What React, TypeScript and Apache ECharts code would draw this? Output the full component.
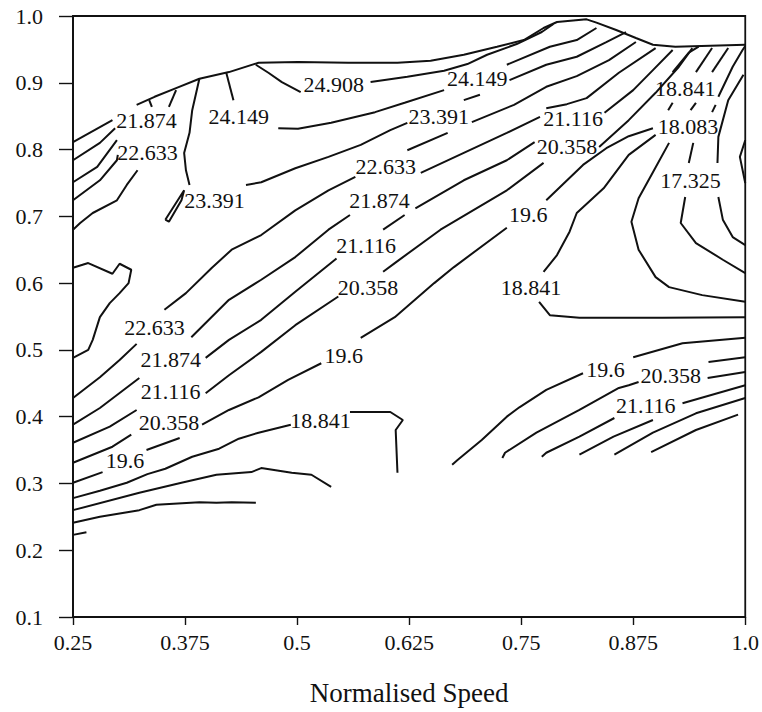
import React, { useEffect, useRef } from "react";
import * as echarts from "echarts";

// Axis ticks
const xTickValues = [0.25, 0.375, 0.5, 0.625, 0.75, 0.875, 1.0];
const yTickValues = [0.1, 0.2, 0.3, 0.4, 0.5, 0.6, 0.7, 0.8, 0.9, 1.0];
const xAxisTitle = "Normalised Speed";

// Contour strokes, [normalised speed, y]
const envelope = [[0.321,0.867],[0.341,0.879],[0.365,0.892],[0.391,0.906],[0.424,0.916],[0.457,0.930],[0.501,0.931],[0.557,0.930],[0.612,0.930],[0.649,0.933],[0.686,0.942],[0.723,0.954],[0.753,0.964],[0.775,0.982],[0.790,0.991],[0.823,0.995],[0.834,0.990],[0.856,0.979],[0.878,0.967],[0.897,0.957],[0.922,0.954],[1.0,0.957]];
const upperLeft1 = [[0.25,0.811],[0.294,0.844]];
const upperLeft2 = [[0.25,0.784],[0.280,0.810],[0.297,0.832]];
const upperLeft3 = [[0.25,0.751],[0.277,0.774],[0.299,0.814]];
const upperLeft4 = [[0.25,0.724],[0.280,0.754],[0.299,0.784],[0.300,0.792]];
const upperLeft5 = [[0.25,0.680],[0.258,0.690],[0.272,0.705],[0.299,0.724],[0.310,0.747],[0.322,0.769]];
const hook1 = [[0.335,0.874],[0.338,0.864]];
const hook2 = [[0.365,0.889],[0.357,0.864]];
const vertical23391 = [[0.391,0.906],[0.383,0.859],[0.380,0.825],[0.374,0.795],[0.376,0.769],[0.380,0.747]];
const stub24149 = [[0.421,0.915],[0.429,0.874]];
const loop23391 = [[0.353,0.695],[0.374,0.739],[0.371,0.724],[0.357,0.692],[0.353,0.695]];
const blob = [[0.25,0.623],[0.267,0.630],[0.294,0.614],[0.302,0.629],[0.315,0.620],[0.312,0.600],[0.302,0.585],[0.291,0.570],[0.280,0.549],[0.272,0.515],[0.267,0.500],[0.25,0.488]];
const c24908a = [[0.454,0.927],[0.468,0.915],[0.483,0.901],[0.504,0.886]];
const c24908b = [[0.582,0.901],[0.623,0.909],[0.664,0.918],[0.690,0.928],[0.712,0.942],[0.745,0.958],[0.773,0.976],[0.786,0.988]];
const topLine = [[0.734,0.927],[0.782,0.954],[0.812,0.964],[0.834,0.982]];
const c24149a = [[0.479,0.832],[0.501,0.831],[0.538,0.840],[0.587,0.856],[0.620,0.870],[0.664,0.889]];
const c24149b = [[0.737,0.904],[0.778,0.927],[0.812,0.939],[0.845,0.961],[0.867,0.976]];
const c23391a = [[0.443,0.747],[0.460,0.751],[0.498,0.772],[0.535,0.789],[0.571,0.807],[0.604,0.829],[0.623,0.840]];
const c23391b = [[0.695,0.841],[0.742,0.867],[0.778,0.894],[0.812,0.910],[0.848,0.934],[0.878,0.961]];
const stubA = [[0.686,0.874],[0.704,0.882]];
const segMid = [[0.623,0.799],[0.668,0.825]];
const mid1 = [[0.352,0.560],[0.376,0.585],[0.405,0.623],[0.427,0.650],[0.460,0.672],[0.498,0.709],[0.535,0.739],[0.565,0.759]];
const mid2 = [[0.382,0.519],[0.424,0.575],[0.460,0.605],[0.498,0.639],[0.535,0.680],[0.559,0.702]];
const mid3 = [[0.398,0.488],[0.424,0.515],[0.460,0.545],[0.498,0.587],[0.544,0.637]];
const mid4 = [[0.398,0.435],[0.424,0.462],[0.460,0.497],[0.498,0.537],[0.546,0.580]];
const mid5 = [[0.394,0.388],[0.424,0.410],[0.457,0.429],[0.490,0.455],[0.527,0.480]];
const low18841a = [[0.25,0.278],[0.280,0.289],[0.310,0.301],[0.333,0.314],[0.353,0.322],[0.383,0.340],[0.413,0.352],[0.435,0.367],[0.457,0.376],[0.493,0.388]];
const low18841b = [[0.559,0.407],[0.604,0.407],[0.618,0.395],[0.610,0.380],[0.612,0.316]];
const lowHump = [[0.25,0.260],[0.324,0.286],[0.371,0.301],[0.410,0.313],[0.449,0.317],[0.460,0.323],[0.494,0.316],[0.516,0.313],[0.538,0.295]];
const lowFlat = [[0.25,0.241],[0.280,0.250],[0.324,0.260],[0.343,0.268],[0.391,0.272],[0.410,0.271],[0.427,0.272],[0.454,0.271]];
const lowStub = [[0.25,0.223],[0.265,0.227]];
const left22633 = [[0.25,0.428],[0.280,0.459],[0.302,0.485],[0.321,0.509]];
const left21874 = [[0.25,0.388],[0.280,0.413],[0.324,0.458]];
const left21116 = [[0.25,0.361],[0.291,0.385],[0.321,0.410]];
const left20358 = [[0.25,0.331],[0.294,0.355],[0.315,0.373]];
const left196 = [[0.25,0.301],[0.283,0.317]];
const left196b = [[0.332,0.350],[0.369,0.368]];
const right1 = [[0.638,0.765],[0.686,0.795],[0.734,0.825],[0.771,0.849]];
const right2 = [[0.632,0.712],[0.686,0.754],[0.734,0.784],[0.765,0.811]];
const right3 = [[0.596,0.617],[0.609,0.630],[0.660,0.680],[0.734,0.739],[0.775,0.780]];
const stubR = [[0.596,0.680],[0.620,0.702]];
const right4 = [[0.571,0.518],[0.609,0.549],[0.653,0.600],[0.675,0.624],[0.734,0.683]];
const fan1 = [[0.778,0.862],[0.801,0.868],[0.823,0.877],[0.859,0.915],[0.900,0.952]];
const fan2 = [[0.843,0.855],[0.875,0.889],[0.897,0.919],[0.919,0.949]];
const fan3 = [[0.837,0.804],[0.870,0.844],[0.900,0.885],[0.926,0.924],[0.941,0.952]];
const fan4 = [[0.919,0.916],[0.937,0.945],[0.948,0.954]];
const fan5 = [[0.945,0.916],[0.963,0.952]];
const fan6 = [[0.963,0.916],[0.981,0.952]];
const fan7 = [[0.970,0.879],[0.986,0.924],[0.997,0.949],[1.0,0.955]];
const tick1 = [[0.914,0.859],[0.919,0.870]];
const tick2 = [[0.939,0.859],[0.945,0.870]];
const tick3 = [[0.963,0.856],[0.967,0.867]];
const tick4 = [[0.942,0.810],[0.937,0.780]];
const rightLong = [[0.998,0.912],[0.981,0.874],[0.970,0.819],[0.969,0.780]];
const rightLoop = [[1.0,0.814],[0.994,0.789],[1.0,0.750]];
const c18083a = [[0.778,0.724],[0.819,0.777],[0.845,0.802],[0.870,0.820],[0.897,0.832]];
const c18083b = [[0.900,0.822],[0.870,0.792],[0.842,0.742],[0.812,0.705],[0.804,0.677],[0.790,0.642],[0.775,0.617]];
const c17325a = [[0.915,0.810],[0.897,0.766],[0.881,0.727],[0.873,0.692],[0.881,0.650],[0.900,0.609],[0.915,0.594],[0.952,0.582],[1.0,0.572]];
const c17325b = [[0.933,0.729],[0.928,0.690],[0.945,0.660],[0.975,0.635],[1.0,0.615]];
const c17325c = [[0.970,0.729],[0.975,0.695],[0.986,0.669],[1.0,0.657]];
const lr18841 = [[0.770,0.572],[0.782,0.552],[0.815,0.548],[0.908,0.548],[1.0,0.549]];
const lrN1 = [[0.875,0.489],[0.930,0.510],[1.0,0.518]];
const lrN2 = [[0.959,0.482],[1.0,0.489]];
const lr196 = [[0.673,0.328],[0.679,0.335],[0.706,0.365],[0.734,0.400],[0.748,0.414],[0.778,0.440],[0.819,0.465]];
const lr20358a = [[0.729,0.338],[0.732,0.346],[0.767,0.376],[0.815,0.410],[0.859,0.443],[0.870,0.447],[0.881,0.452]];
const lr20358b = [[0.958,0.458],[1.0,0.467]];
const lr21116a = [[0.773,0.340],[0.778,0.346],[0.815,0.370],[0.854,0.398]];
const lr21116b = [[0.930,0.420],[1.0,0.447]];
const lrR = [[0.815,0.343],[0.853,0.370],[0.897,0.395]];
const lrS = [[0.854,0.343],[0.897,0.376],[0.945,0.405],[1.0,0.428]];
const lrT = [[0.895,0.347],[0.945,0.380],[0.992,0.403]];

const contourStrokes = [
  envelope, upperLeft1, upperLeft2, upperLeft3, upperLeft4, upperLeft5, hook1, hook2,
  vertical23391, stub24149, loop23391, blob, c24908a, c24908b, topLine, c24149a, c24149b,
  c23391a, c23391b, stubA, segMid, mid1, mid2, mid3, mid4, mid5, low18841a, low18841b,
  lowHump, lowFlat, lowStub, left22633, left21874, left21116, left20358, left196, left196b,
  right1, right2, right3, stubR, right4, fan1, fan2, fan3, fan4, fan5, fan6, fan7,
  tick1, tick2, tick3, tick4, rightLong, rightLoop, c18083a, c18083b, c17325a, c17325b,
  c17325c, lr18841, lrN1, lrN2, lr196, lr20358a, lr20358b, lr21116a, lr21116b, lrR, lrS, lrT,
];

// Contour labels
const labelTexts = [
  "21.874", "22.633", "24.149", "23.391", "24.908", "24.149", "23.391", "22.633", "21.874",
  "21.116", "20.358", "19.6", "18.841", "21.116", "20.358", "19.6", "18.841", "18.083",
  "17.325", "18.841", "19.6", "20.358", "21.116", "22.633", "21.874", "21.116", "20.358", "19.6",
];
const labelPoints = [
  [0.332,0.844],[0.333,0.795],[0.435,0.850],[0.408,0.724],[0.541,0.898],[0.701,0.907],
  [0.658,0.849],[0.599,0.775],[0.592,0.724],[0.577,0.656],[0.579,0.594],[0.552,0.492],
  [0.526,0.395],[0.808,0.847],[0.801,0.804],[0.758,0.702],[0.933,0.891],[0.936,0.834],
  [0.939,0.754],[0.761,0.593],[0.844,0.470],[0.917,0.462],[0.889,0.417],[0.341,0.534],
  [0.359,0.486],[0.359,0.438],[0.357,0.392],[0.308,0.334],
];

const INK = "#111111";
const FONT = "Liberation Serif";

export default function App() {
  const ref = useRef<HTMLDivElement>(null);
  useEffect(() => {
    if (!ref.current) return;
    const chart = echarts.init(ref.current, undefined, { renderer: "svg" });
    const lineSeries = contourStrokes.map((pts) => ({
      type: "line",
      data: pts,
      showSymbol: false,
      symbol: "none",
      silent: true,
      lineStyle: { color: INK, width: 2 },
      z: 2,
    }));
    chart.setOption({
      animation: false,
      backgroundColor: "#ffffff",
      grid: {
        left: 73, right: 12, top: 16, bottom: 95,
        show: true, borderColor: INK, borderWidth: 1.8, backgroundColor: "transparent",
      },
      xAxis: {
        type: "value",
        min: xTickValues[0],
        max: xTickValues[xTickValues.length - 1],
        interval: 0.125,
        axisLine: { show: true, onZero: false, lineStyle: { color: INK, width: 1.8 } },
        axisTick: { show: true, length: 8, lineStyle: { color: INK, width: 1.4 } },
        axisLabel: {
          color: INK, fontFamily: FONT, fontSize: 22, margin: 14,
          formatter: (v: number) => (v === 1 ? "1.0" : String(v)),
        },
        splitLine: { show: false },
        name: xAxisTitle,
        nameLocation: "middle",
        nameGap: 62,
        nameTextStyle: { color: INK, fontFamily: FONT, fontSize: 27 },
      },
      yAxis: {
        type: "value",
        min: yTickValues[0],
        max: yTickValues[yTickValues.length - 1],
        interval: 0.1,
        axisLine: { show: true, onZero: false, lineStyle: { color: INK, width: 1.8 } },
        axisTick: { show: true, length: 14, lineStyle: { color: INK, width: 1.4 } },
        axisLabel: {
          color: INK, fontFamily: FONT, fontSize: 22, margin: 30,
          formatter: (v: number) => v.toFixed(1),
        },
        splitLine: { show: false },
      },
      series: [
        ...lineSeries,
        {
          type: "scatter",
          symbolSize: 1,
          silent: true,
          itemStyle: { color: "rgba(0,0,0,0)", opacity: 1 },
          data: labelPoints.map((p, i) => ({ value: p, name: labelTexts[i] })),
          label: {
            show: true,
            formatter: "{b}",
            position: "inside",
            color: INK,
            opacity: 1,
            fontFamily: FONT,
            fontSize: 22,
          },
          z: 3,
        },
      ],
    });
    return () => chart.dispose();
  }, []);
  return (
    <div
      ref={ref}
      style={{ position: "absolute", left: 0, top: 0, width: 762, height: 712, background: "#fff" }}
    />
  );
}
